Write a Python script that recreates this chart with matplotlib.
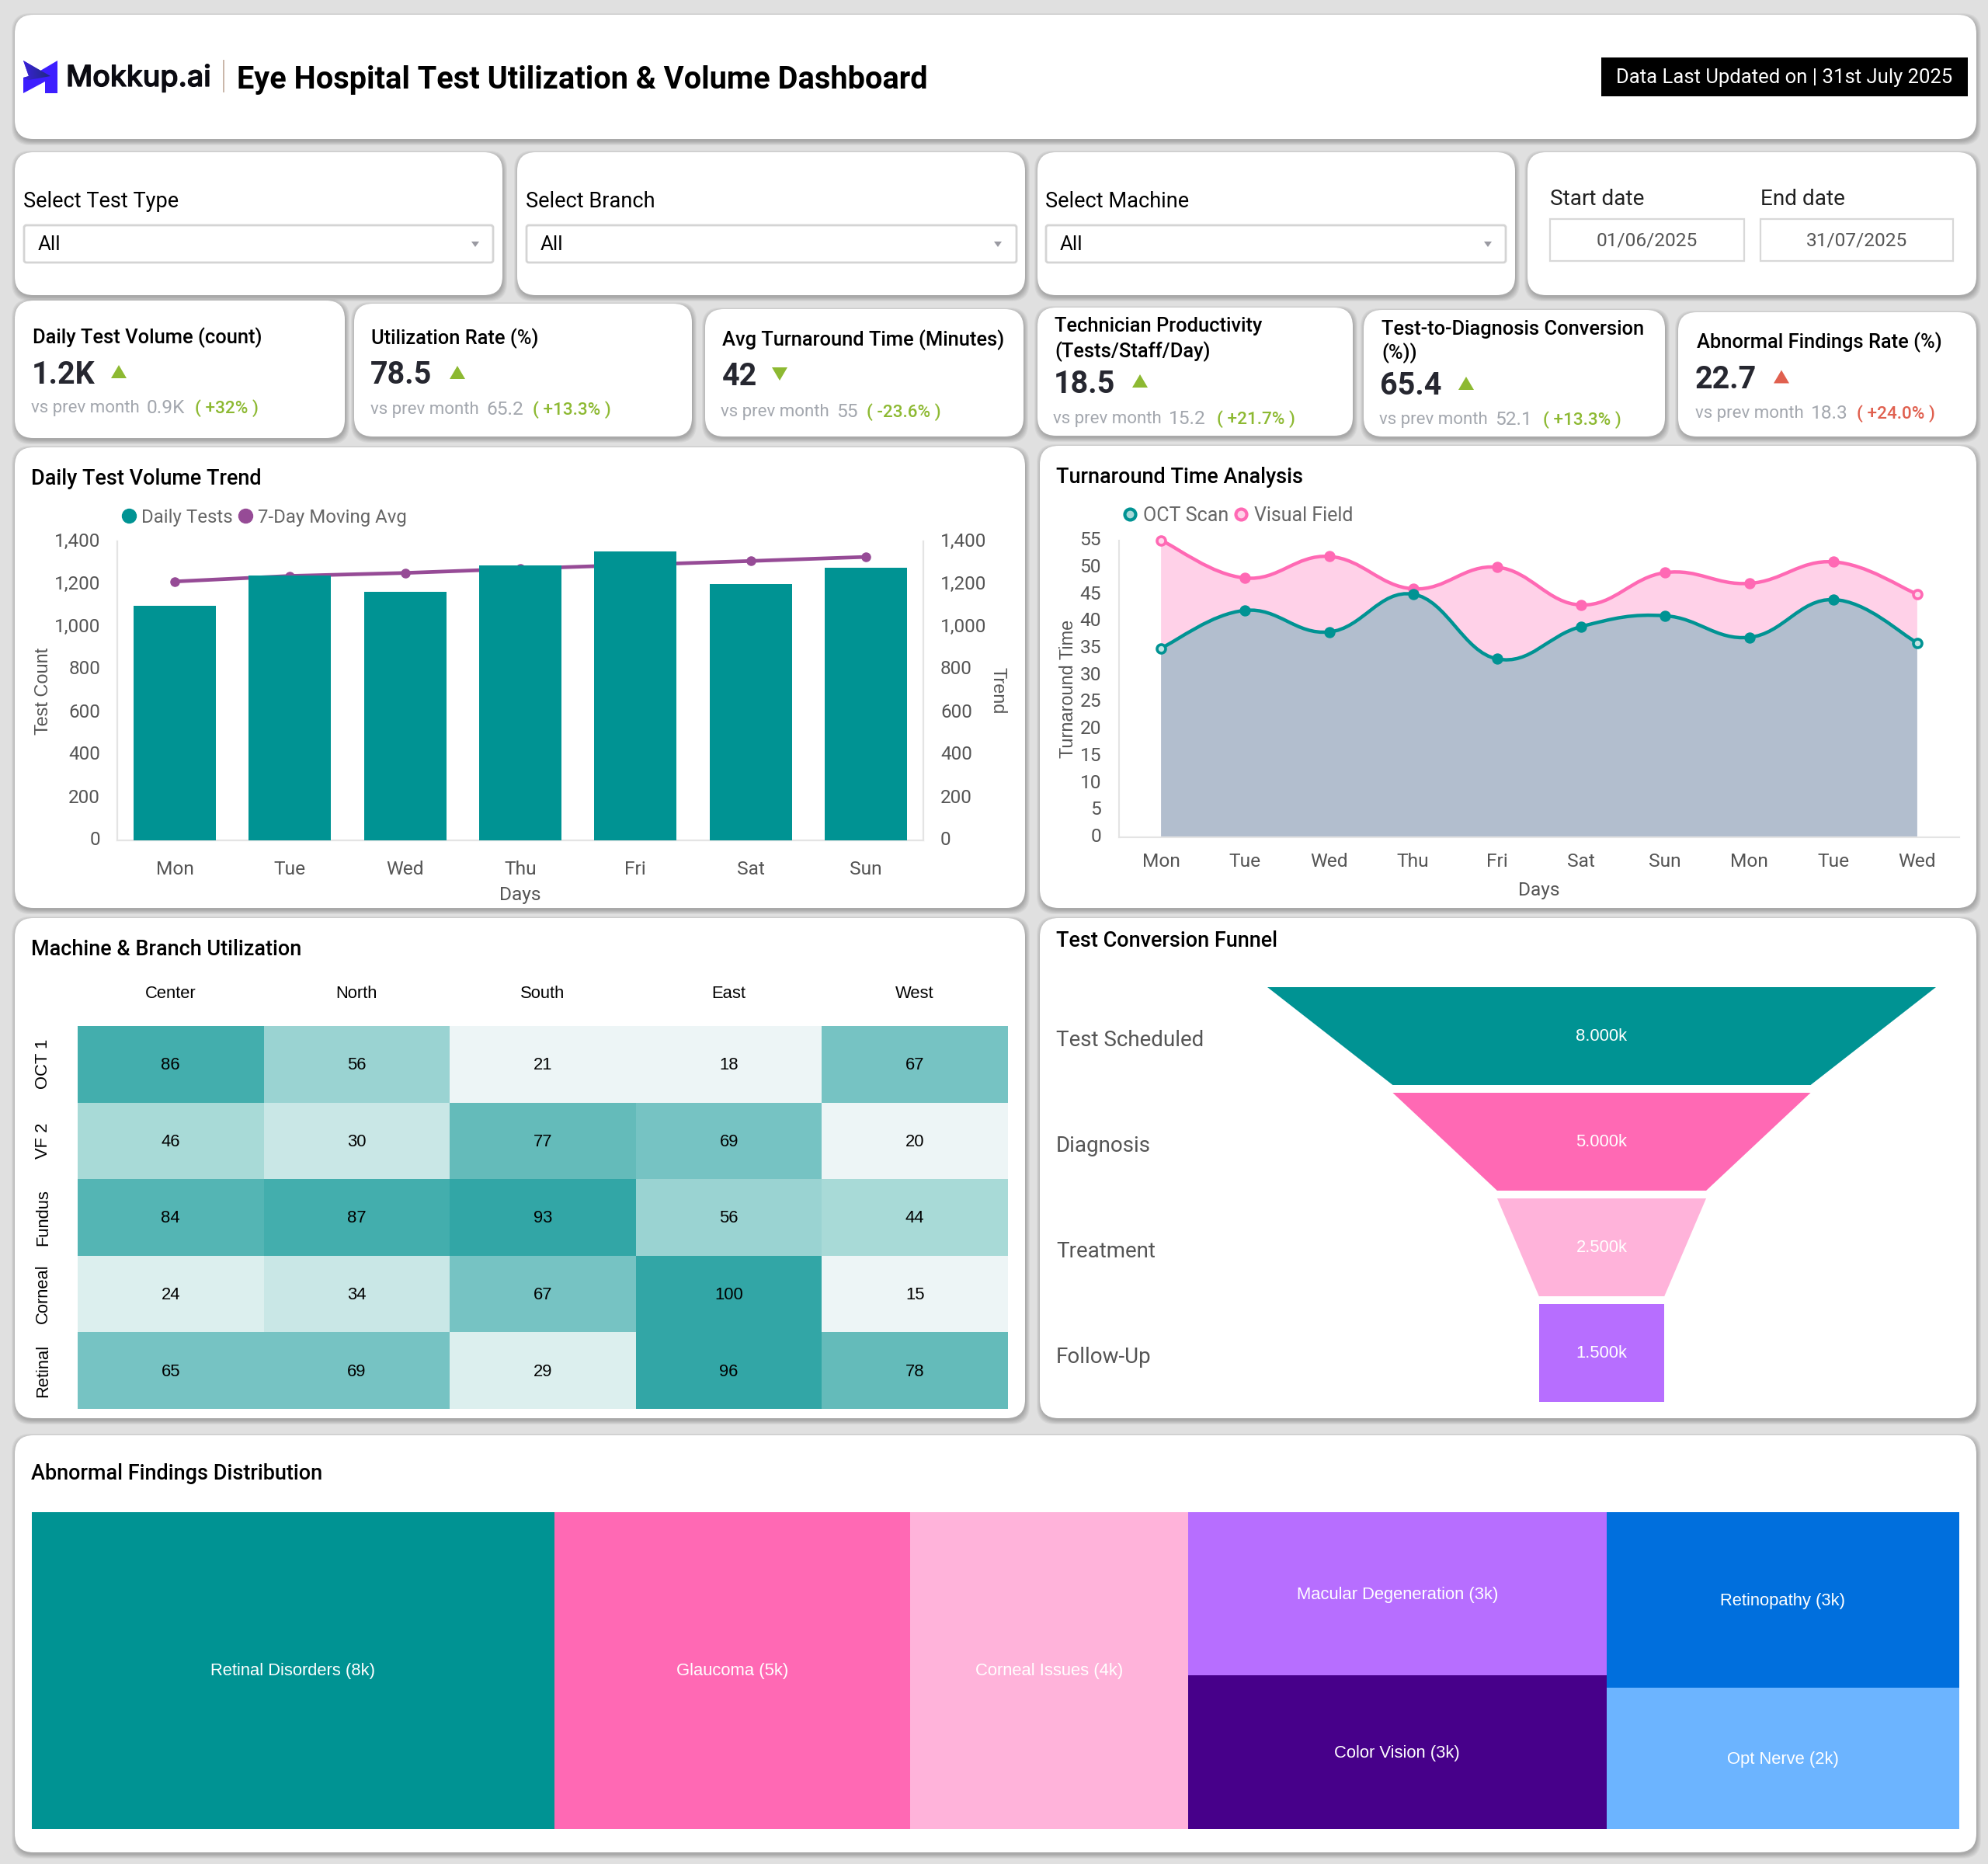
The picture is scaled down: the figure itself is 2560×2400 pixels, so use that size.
import numpy as np
import matplotlib
matplotlib.use("Agg")
import matplotlib.pyplot as plt
import matplotlib.patheffects as pe
from matplotlib.patches import FancyBboxPatch, Polygon, Rectangle, PathPatch
from matplotlib.path import Path
from matplotlib.lines import Line2D
from matplotlib.colors import ListedColormap, BoundaryNorm, LinearSegmentedColormap
from matplotlib.transforms import ScaledTranslation

# ---------- data ----------
days = ["Mon", "Tue", "Wed", "Thu", "Fri", "Sat", "Sun"]
daily_tests = [1100, 1240, 1165, 1288, 1354, 1200, 1276]
moving_avg = [1212, 1238, 1252, 1272, 1290, 1308, 1327]
vol_ticks = [0, 200, 400, 600, 800, 1000, 1200, 1400]

tat_days = ["Mon", "Tue", "Wed", "Thu", "Fri", "Sat", "Sun", "Mon", "Tue", "Wed"]
oct_scan = [35, 42, 38, 45, 33, 39, 41, 37, 44, 36]
visual_field = [55, 48, 52, 46, 50, 43, 49, 47, 51, 45]
tat_ticks = [0, 5, 10, 15, 20, 25, 30, 35, 40, 45, 50, 55]

branches = ["Center", "North", "South", "East", "West"]
machines = ["OCT 1", "VF 2", "Fundus", "Corneal", "Retinal"]
util = [[86, 56, 21, 18, 67],
        [46, 30, 77, 69, 20],
        [84, 87, 93, 56, 44],
        [24, 34, 67, 100, 15],
        [65, 69, 29, 96, 78]]
util_bins = [0, 23, 30, 40, 50, 60, 72, 80, 85, 90, 101]
util_colors = ["#EDF5F6", "#DCEFEE", "#C9E7E6", "#A8DAD7", "#9AD3D2",
               "#76C3C3", "#64BBBA", "#54B5B4", "#43AEAD", "#32A6A6"]

funnel_stages = ["Test Scheduled", "Diagnosis", "Treatment", "Follow-Up"]
funnel_values = [8000, 5000, 2500, 1500]
funnel_labels = ["8.000k", "5.000k", "2.500k", "1.500k"]

tree_names = ["Retinal Disorders (8k)", "Glaucoma (5k)", "Corneal Issues (4k)",
              "Macular Degeneration (3k)", "Color Vision (3k)", "Retinopathy (3k)", "Opt Nerve (2k)"]
tree_values = [8000, 5450, 4250, 3300, 3100, 3000, 2400]

TEAL, PINK, LPINK, PURPLE, INDIGO, BLUE, LBLUE = ("#009393", "#FF69B4", "#FFB3DA", "#B76EFF",
                                                  "#47008A", "#006FDD", "#6CB4FF")
tree_colors = [TEAL, PINK, LPINK, PURPLE, INDIGO, BLUE, LBLUE]
funnel_colors = [TEAL, PINK, LPINK, PURPLE]
GREEN, RED = "#8DB932", "#E0604F"

W, H = 2560, 2400
R = "Roboto"
A = "Liberation Sans"
YS = 2.5  # vertical correction for centred Roboto text
def pt(px):
    return px * 0.72

fig = plt.figure(figsize=(W / 100, H / 100), dpi=100, facecolor="#E0E0E0")
bg = fig.add_axes([0, 0, 1, 1], zorder=0)
bg.set_xlim(0, W); bg.set_ylim(H, 0); bg.axis("off")

def T(x, y, s, px, color="#000000", ha="left", va="center", weight="normal", family=R, ax=bg, **k):
    return ax.text(x, y + YS, s, fontsize=pt(px), color=color, ha=ha, va=va, weight=weight, family=family, **k)

def card(l, t, r, b, rad=24):
    for i in range(6):
        grow = 5 - i
        bg.add_patch(FancyBboxPatch((l - grow + 1, t + 3 - grow), r - l + 2 * grow, b - t + 2 * grow,
                                    boxstyle=f"round,pad=0,rounding_size={rad}", fc="k", ec="none",
                                    alpha=0.045, zorder=1))
    bg.add_patch(FancyBboxPatch((l, t), r - l, b - t, boxstyle=f"round,pad=0,rounding_size={rad}",
                                fc="white", ec="none", zorder=2))

def ax_px(l, t, r, b, **k):
    return fig.add_axes([l / W, 1 - b / H, (r - l) / W, (b - t) / H], **k)

def medium(x, y, s, px, **k):
    return T(x, y, s, px, weight="medium", zorder=5, **k)

def lift(axis_obj, px=2.5):
    for lbl in axis_obj.get_ticklabels():
        lbl.set_transform(lbl.get_transform() + ScaledTranslation(0, px / 100, fig.dpi_scale_trans))

# ---------- cards ----------
card(19, 19, 2545, 179)
for c in [(19, 196, 647, 380), (666, 196, 1320, 380), (1336, 196, 1951, 380), (1967, 196, 2545, 380),
          (19, 387, 444, 564), (456, 391, 891, 562), (908, 398, 1318, 562), (1336, 396, 1742, 561),
          (1756, 399, 2144, 562), (2161, 402, 2545, 562),
          (19, 576, 1320, 1169), (1339, 574, 2545, 1169),
          (19, 1182, 1320, 1826), (1339, 1182, 2545, 1826),
          (19, 1848, 2545, 2385)]:
    card(*c)

# ---------- header ----------
logo = np.array([(30, 78), (52, 91), (74, 78), (74, 120), (58, 120), (58, 105), (30, 120), (30, 100), (37, 98)])
bg.add_patch(Polygon(logo, closed=True, fc="#3D1EFF", ec="none", zorder=5))
grad = LinearSegmentedColormap.from_list("g", ["#3A22D8", "#1F2A80"])
im = bg.imshow(np.linspace(0, 1, 64).reshape(1, -1), extent=(30, 65, 103, 78), cmap=grad, aspect="auto", zorder=6)
im.set_clip_path(Polygon([(30, 78), (65, 98), (37, 103), (30, 100), (37, 98)], closed=True, transform=bg.transData))
bg.set_xlim(0, W); bg.set_ylim(H, 0)
t = T(85, 98, "Mokkup.ai", 37.5, color="#0B0B12", family="Inter", weight="medium", zorder=5)
t.set_path_effects([pe.withStroke(linewidth=0.9, foreground="#0B0B12")])
bg.plot([288, 288], [78, 118], color="#C9B6A8", lw=1.4, zorder=5)
T(305, 100, "Eye Hospital Test Utilization & Volume Dashboard", 39.7, weight="bold", zorder=5)
bg.add_patch(Rectangle((2062, 74), 472, 50, fc="k", ec="none", zorder=5))
T(2298, 97, "Data Last Updated on | 31st July 2025", 25.6, color="white", ha="center", zorder=6)

# ---------- filters ----------
for label, lx, dr, ax_ in [("Select Test Type", 30, 636, 612), ("Select Branch", 677, 1310, 1285),
                           ("Select Machine", 1346, 1940, 1916)]:
    T(lx, 257, label, 27.1, zorder=5)
    bg.add_patch(FancyBboxPatch((lx + 1, 290), dr - lx - 2, 48, boxstyle="round,pad=0,rounding_size=3",
                                fc="white", ec="#D4D4D4", lw=2, zorder=5))
    T(lx + 19, 312, "All", 26, zorder=6)
    bg.add_patch(Polygon([(ax_ - 5, 311), (ax_ + 5, 311), (ax_, 318)], fc="#9A9AA2", ec="none", zorder=6))
for label, val, l, r in [("Start date", "01/06/2025", 1996, 2246), ("End date", "31/07/2025", 2267, 2515)]:
    T(l, 254.5, label, 28, color="#222222", zorder=5)
    bg.add_patch(Rectangle((l, 282), r - l, 54, fc="white", ec="#D8D8D8", lw=1.6, zorder=5))
    T((l + r) / 2, 307.5, val, 24.5, color="#555555", ha="center", zorder=6)

# ---------- KPI ----------
kpis = [
    (["Daily Test Volume (count)"], [432], 42, "1.2K", 41, 480, 153, "up", GREEN, 40, 523.5, "0.9K", "+32%", 251),
    (["Utilization Rate (%)"], [433.5], 478, "78.5", 477, 481, 589, "up", GREEN, 477, 525, "65.2", "+13.3%", 686),
    (["Avg Turnaround Time (Minutes)"], [435], 930, "42", 930, 483, 1004, "down", GREEN, 928, 528, "55", "-23.6%", 1116),
    (["Technician Productivity", "(Tests/Staff/Day)"], [418, 450], 1358, "18.5", 1357, 492, 1468, "up", GREEN, 1356, 537, "15.2", "+21.7%", 1567),
    (["Test-to-Diagnosis Conversion", "(%))"], [421, 452], 1779, "65.4", 1777, 495, 1888, "up", GREEN, 1776, 538, "52.1", "+13.3%", 1987),
    (["Abnormal Findings Rate (%)"], [438.5], 2185, "22.7", 2183, 486.5, 2294, "up", RED, 2183, 530, "18.3", "+24.0%", 2391),
]
for lines, ys, tx, val, vx, vy, tri, d, col, sx, sy, prev, chg, px_ in kpis:
    for ln, y in zip(lines, ys):
        medium(tx, y, ln, 25.5)
    T(vx, vy, val, 39.5, color="#262730", weight="bold", zorder=5)
    t0, t1 = vy - 10, vy + 7
    if d == "up":
        p = [(tri - 10, t1), (tri + 10, t1), (tri, t0)]
    else:
        p = [(tri - 10, t0), (tri + 10, t0), (tri, t1)]
    bg.add_patch(Polygon(p, fc=col, ec="none", zorder=5))
    T(sx, sy, "vs prev month", 22.3, color="#A3A7AE", zorder=5)
    T(sx + 149, sy, prev, 24.5, color="#A3A7AE", zorder=5)
    medium(px_, sy, f"( {chg} )", 22.5, color=col)

# ---------- daily volume ----------
medium(40, 614, "Daily Test Volume Trend", 27)
ax = ax_px(151, 697, 1189, 1082, zorder=3)
ax2 = ax.twinx()
ax2.set_zorder(2)
ax.patch.set_visible(False)
x = np.arange(len(days))
ax.bar(x, daily_tests, width=0.715, color=TEAL, zorder=3)
ax2.plot(x, moving_avg, color="#964B96", lw=3.4, marker="o", ms=8, zorder=2)
for a in (ax, ax2):
    a.set_xlim(-0.5, 6.5); a.set_ylim(0, 1400)
    a.set_yticks(vol_ticks)
    a.set_yticklabels([f"{v:,}" for v in vol_ticks], family=R, fontsize=pt(24.3), color="#555555")
    for s in a.spines.values():
        s.set_color("#E4E4E4"); s.set_linewidth(1.5)
    a.spines["top"].set_visible(False)
    a.tick_params(axis="both", length=0, pad=pt(22))
    lift(a.yaxis, 2.5)
ax.set_xticks(x)
ax.set_xticklabels(days, family=R, fontsize=pt(24.5), color="#555555")
ax.tick_params(axis="x", pad=pt(26))
ax.set_xlabel("Days", family=R, fontsize=pt(24.5), color="#555555")
ax.xaxis.set_label_coords(0.5, (1082 - 1153) / (1082 - 697), transform=ax.transAxes)
ax.xaxis.label.set_va("center")
ax.set_ylabel("Test Count", family=A, fontsize=pt(23.5), color="#555555")
ax.yaxis.set_label_coords((55.5 - 151) / 1038, 0.5)
ax.yaxis.label.set_va("center")
ax2.set_ylabel("Trend", family=A, fontsize=pt(23.5), color="#555555", rotation=-90)
ax2.yaxis.set_label_coords((1285 - 151) / 1038, 0.5)
ax2.yaxis.label.set_va("center")
h = [Line2D([], [], ls="", marker="o", ms=pt(18), color=TEAL),
     Line2D([], [], ls="", marker="o", ms=pt(18), color="#964B96")]
ax.legend(h, ["Daily Tests", "7-Day Moving Avg"], loc="center left", ncol=2, frameon=False, numpoints=1,
          bbox_to_anchor=(156 / W, 1 - 666 / H), bbox_transform=fig.transFigure, borderpad=0, borderaxespad=0,
          handlelength=0.8, handletextpad=0.3, columnspacing=0.25,
          prop={"family": R, "size": pt(24)}, labelcolor="#666666")

# ---------- turnaround ----------
medium(1360, 612, "Turnaround Time Analysis", 27)
def spline(xs, ys, s=0.2):
    xs = np.asarray(xs, float); ys = np.asarray(ys, float)
    verts = [(xs[0], ys[0])]; codes = [Path.MOVETO]
    n = len(xs)
    tx = np.empty(n); ty = np.empty(n)
    tx[1:-1] = xs[2:] - xs[:-2]; ty[1:-1] = ys[2:] - ys[:-2]
    tx[0], ty[0] = xs[1] - xs[0], ys[1] - ys[0]
    tx[-1], ty[-1] = xs[-1] - xs[-2], ys[-1] - ys[-2]
    for i in range(n - 1):
        verts += [(xs[i] + s * tx[i], ys[i] + s * ty[i]),
                  (xs[i + 1] - s * tx[i + 1], ys[i + 1] - s * ty[i + 1]),
                  (xs[i + 1], ys[i + 1])]
        codes += [Path.CURVE4] * 3
    return verts, codes

at = ax_px(1441, 695.6, 2523, 1077.6, zorder=3)
at.patch.set_visible(False)
xt = np.arange(len(tat_days))
for series, col in [(visual_field, PINK), (oct_scan, TEAL)]:
    v, c = spline(xt, series)
    fill = Path(v + [(xt[-1], 0), (xt[0], 0), (xt[0], series[0])],
                c + [Path.LINETO, Path.LINETO, Path.LINETO])
    at.add_patch(PathPatch(fill, fc=col, ec="none", alpha=0.3, zorder=2))
for series, col, inner in [(visual_field, PINK, "#FFD9EC"), (oct_scan, TEAL, "#C4E4E4")]:
    v, c = spline(xt, series)
    at.add_patch(PathPatch(Path(v, c), fc="none", ec=col, lw=3.2, zorder=3, clip_on=False))
    at.plot(xt[1:-1], series[1:-1], ls="", marker="o", ms=pt(13), color=col, zorder=4, clip_on=False)
    at.plot([xt[0], xt[-1]], [series[0], series[-1]], ls="", marker="o", ms=pt(11), mfc=inner,
            mec=col, mew=2.6, zorder=4, clip_on=False)
at.set_xlim(-0.5, 9.5); at.set_ylim(0, 55)
at.set_xticks(xt); at.set_xticklabels(tat_days, family=R, fontsize=pt(24.5), color="#555555")
at.set_yticks(tat_ticks); at.set_yticklabels(tat_ticks, family=R, fontsize=pt(24.5), color="#555555")
at.tick_params(axis="both", length=0)
at.tick_params(axis="y", pad=pt(23))
at.tick_params(axis="x", pad=pt(20))
lift(at.yaxis, 2.5)
for k, s in at.spines.items():
    s.set_color("#E4E4E4"); s.set_linewidth(1.5)
    s.set_visible(k in ("left", "bottom"))
at.set_xlabel("Days", family=R, fontsize=pt(24.5), color="#555555")
at.xaxis.set_label_coords((1981.5 - 1441) / 1082, (1077.6 - 1146) / 382)
at.xaxis.label.set_va("center")
at.set_ylabel("Turnaround Time", family=A, fontsize=pt(23.5), color="#555555")
at.yaxis.set_label_coords((1375 - 1441) / 1082, (1077.6 - 887) / 382)
at.yaxis.label.set_va("center")
h = [Line2D([], [], ls="", marker="o", ms=pt(14), mfc="#A6D8D8", mec=TEAL, mew=3),
     Line2D([], [], ls="", marker="o", ms=pt(14), mfc="#FFD1E8", mec=PINK, mew=3)]
at.legend(h, ["OCT Scan", "Visual Field"], loc="center left", ncol=2, frameon=False, numpoints=1,
          bbox_to_anchor=(1445 / W, 1 - 664 / H), bbox_transform=fig.transFigure, borderpad=0, borderaxespad=0,
          handlelength=0.8, handletextpad=0.28, columnspacing=0.24,
          prop={"family": R, "size": pt(25)}, labelcolor="#666666")

# ---------- heatmap ----------
medium(40, 1219.5, "Machine & Branch Utilization", 27)
hm = ax_px(100, 1321, 1298, 1814, zorder=3)
cmap = ListedColormap(util_colors)
norm = BoundaryNorm(util_bins, cmap.N)
hm.pcolormesh(np.array(util), cmap=cmap, norm=norm, edgecolors="none")
hm.set_ylim(5, 0); hm.set_xlim(0, 5)
hm.set_xticks(np.arange(5) + 0.5); hm.set_xticklabels(branches, family=A, fontsize=pt(22), color="k")
hm.set_yticks(np.arange(5) + 0.5)
hm.set_yticklabels(machines, family=A, fontsize=pt(22), color="k", rotation=90, va="center")
hm.xaxis.tick_top()
hm.tick_params(axis="both", length=0)
hm.tick_params(axis="x", pad=pt(31))
hm.tick_params(axis="y", pad=pt(34))
for s in hm.spines.values():
    s.set_visible(False)
for i, row in enumerate(util):
    for j, v in enumerate(row):
        hm.text(j + 0.5, i + 0.515, str(v), ha="center", va="center", family=A, fontsize=pt(22), color="k")

# ---------- funnel ----------
medium(1360, 1209, "Test Conversion Funnel", 27)
fn = ax_px(1632, 1271, 2493, 1805, zorder=3)
fn.set_xlim(-4000, 4000)
gap = 10 / 136
fn.set_ylim(4 - gap, 0)
fn.axis("off")
for i, v in enumerate(funnel_values):
    nxt = funnel_values[i + 1] if i + 1 < len(funnel_values) else v
    fn.add_patch(Polygon([(-v / 2, i), (v / 2, i), (nxt / 2, i + 1 - gap), (-nxt / 2, i + 1 - gap)],
                         fc=funnel_colors[i], ec="none"))
    fn.text(0, i + 0.5 - gap / 2 + 0.007, funnel_labels[i], ha="center", va="center", color="white",
            family=A, fontsize=pt(22))
    T(1360, 1337 + i * 136, funnel_stages[i], 27.8, color="#555555", zorder=5)

# ---------- treemap ----------
medium(40, 1895, "Abnormal Findings Distribution", 27)
tr = ax_px(40.6, 1947, 2523, 2354.5, zorder=3)
total = sum(tree_values)
tr.set_xlim(0, total); tr.set_ylim(1, 0); tr.axis("off")
cols = [[0], [1], [2], [3, 4], [5, 6]]
x0 = 0
for group in cols:
    w = sum(tree_values[g] for g in group)
    y0 = 0
    for g in group:
        hgt = tree_values[g] / w
        tr.add_patch(Rectangle((x0, y0), w, hgt, fc=tree_colors[g], ec="none"))
        tr.text(x0 + w / 2, y0 + hgt / 2 + 0.003, tree_names[g], ha="center", va="center", color="white",
                family=A, fontsize=pt(22))
        y0 += hgt
    x0 += w

fig.savefig("out.png", dpi=100, facecolor=fig.get_facecolor())
